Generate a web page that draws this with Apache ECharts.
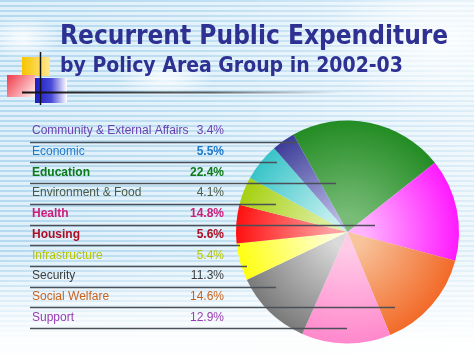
<!DOCTYPE html>
<html>
<head>
<meta charset="utf-8">
<script src="https://cdn.jsdelivr.net/npm/echarts@6/dist/echarts.min.js"></script>
<style>
html,body{margin:0;padding:0;width:474px;height:355px;overflow:hidden;}
#bg{position:absolute;left:0;top:0;width:474px;height:355px;
background:
 radial-gradient(ellipse 40px 22px at 22px 38px, rgba(255,255,255,0.85), rgba(255,255,255,0) 100%),
 radial-gradient(ellipse 50px 20px at 165px 78px, rgba(255,255,255,0.8), rgba(255,255,255,0) 100%),
 radial-gradient(ellipse 120px 70px at 440px 40px, rgba(255,255,255,0.85), rgba(255,255,255,0) 100%),
 linear-gradient(to bottom, rgba(255,255,255,0) 0px, rgba(255,255,255,0) 250px, rgba(255,255,255,0.95) 340px),
 linear-gradient(to right, rgba(255,255,255,0) 0px, rgba(255,255,255,0.15) 200px, rgba(255,255,255,0.55) 474px),
 repeating-linear-gradient(to bottom, #b4d9f0 0px, #b4d9f0 2px, #dff0fa 2px, #dff0fa 5px);
}
#chart{position:absolute;left:0;top:0;width:474px;height:355px;}
</style>
</head>
<body>
<div id="bg"></div>
<div id="chart"></div>
<script>
// ---- data ----
var titleLine1 = 'Recurrent Public Expenditure';
var titleLine2 = 'by Policy Area Group in 2002-03';
var categories = ['Community & External Affairs', 'Economic', 'Education', 'Environment & Food', 'Health', 'Housing', 'Infrastructure', 'Security', 'Social Welfare', 'Support'];
var values = [3.4, 5.5, 22.4, 4.1, 14.8, 5.6, 5.4, 11.3, 14.6, 12.9];
var pieOrder = ['Education', 'Health', 'Social Welfare', 'Support', 'Security', 'Infrastructure', 'Housing', 'Environment & Food', 'Economic', 'Community & External Affairs'];

// ---- styles ----
var textColors = ['#6a3fb0', '#1f78c8', '#0b7a16', '#4e5a46', '#d01c78', '#b00d22', '#b8c400', '#3c3c3c', '#c8621e', '#9a3cb0'];
var boldLabel = [false, false, true, false, true, true, false, false, false, false];
var boldValue = [false, true, true, false, true, true, false, false, false, false];
var sliceColors = {
  'Education': ['#78bc78', '#238c23'],
  'Health': ['#ffb4ff', '#ff1aff'],
  'Social Welfare': ['#f8c49c', '#f26a28'],
  'Support': ['#ffcce8', '#ff88cc'],
  'Security': ['#dadada', '#7a7a7a'],
  'Infrastructure': ['#ffffd8', '#ffff10'],
  'Housing': ['#ffa0a0', '#ff1010'],
  'Environment & Food': ['#e0f0a8', '#a6d010'],
  'Economic': ['#c8f0f0', '#38c4c8'],
  'Community & External Affairs': ['#b8b8e4', '#3c3c98']
};
var lineEnds = [297, 277, 336, 276, 375, 240, 247, 276, 395, 347];
var cx = 347.5, cy = 232, R = 111.5;
var rowTop = 131, rowStep = 20.7;
var titleFont = '"DejaVu Sans Condensed", "DejaVu Sans"';

var chart = echarts.init(document.getElementById('chart'), null, {renderer: 'canvas'});

var pieData = pieOrder.map(function (name) {
  var i = categories.indexOf(name);
  var c = sliceColors[name];
  return {
    name: name,
    value: values[i],
    itemStyle: {
      color: {
        type: 'radial', x: cx, y: cy, r: R, global: true,
        colorStops: [{offset: 0, color: c[0]}, {offset: 0.15, color: c[0]}, {offset: 1, color: c[1]}]
      }
    }
  };
});

var graphics = [];
// title
graphics.push({type: 'text', left: 60, top: 24, z: 10, style: {text: titleLine1, font: 'bold 26px ' + titleFont, fill: '#2e3192', shadowColor: 'rgba(0,0,0,0.25)', shadowOffsetX: 1, shadowOffsetY: 1, shadowBlur: 1}});
graphics.push({type: 'text', left: 60, top: 56, z: 10, style: {text: titleLine2, font: 'bold 21px ' + titleFont, fill: '#2e3192', shadowColor: 'rgba(0,0,0,0.25)', shadowOffsetX: 1, shadowOffsetY: 1, shadowBlur: 1}});
// decorative squares
graphics.push({type: 'rect', z: 5, shape: {x: 22, y: 57, width: 28, height: 19}, style: {fill: new echarts.graphic.LinearGradient(0, 0, 1, 0, [{offset: 0, color: '#f8c400'}, {offset: 1, color: '#ffe890'}])}});
graphics.push({type: 'rect', z: 6, shape: {x: 7, y: 75, width: 28, height: 22}, style: {fill: new echarts.graphic.LinearGradient(0, 0, 1, 1, [{offset: 0, color: '#f03848'}, {offset: 1, color: '#fff0f0'}])}});
graphics.push({type: 'rect', z: 6, shape: {x: 35, y: 78, width: 32, height: 25}, style: {fill: new echarts.graphic.LinearGradient(0, 0, 1, 0, [{offset: 0, color: '#1c1cc0'}, {offset: 0.5, color: '#4848d8'}, {offset: 1, color: '#ffffff'}])}});
graphics.push({type: 'line', z: 7, shape: {x1: 40.5, y1: 52, x2: 40.5, y2: 105}, style: {stroke: '#111', lineWidth: 1.5}});
graphics.push({type: 'line', z: 7, shape: {x1: 22, y1: 92.5, x2: 340, y2: 92.5}, style: {stroke: new echarts.graphic.LinearGradient(0, 0, 1, 0, [{offset: 0, color: '#111'}, {offset: 0.6, color: 'rgba(40,40,40,0.7)'}, {offset: 1, color: 'rgba(80,80,80,0)'}]), lineWidth: 2}});

// rows
categories.forEach(function (name, i) {
  var y = rowTop + i * rowStep;
  graphics.push({type: 'text', z: 20, x: 32, y: y, style: {text: name, font: (boldLabel[i] ? 'bold ' : '') + '12px "Liberation Sans"', fill: textColors[i], textVerticalAlign: 'middle', verticalAlign: 'middle', shadowColor: 'rgba(0,0,0,0.3)', shadowOffsetX: 1, shadowOffsetY: 1, shadowBlur: 1}});
  graphics.push({type: 'text', z: 20, x: 224, y: y, style: {text: values[i].toFixed(1) + '%', font: (boldValue[i] ? 'bold ' : '') + '12px "Liberation Sans"', fill: textColors[i], textAlign: 'right', align: 'right', textVerticalAlign: 'middle', verticalAlign: 'middle', shadowColor: 'rgba(0,0,0,0.3)', shadowOffsetX: 1, shadowOffsetY: 1, shadowBlur: 1}});
  var ly = Math.round(y + 10.7) + 0.5;
  graphics.push({type: 'line', z: 30, shape: {x1: 30, y1: ly, x2: lineEnds[i], y2: ly}, style: {stroke: '#4a4f58', lineWidth: 1.3}});
});

chart.setOption({
  backgroundColor: 'transparent',
  animation: false,
  graphic: graphics,
  series: [{
    type: 'pie',
    center: [cx, cy],
    radius: [0, R],
    startAngle: 119,
    clockwise: true,
    label: {show: false},
    labelLine: {show: false},
    emphasis: {disabled: true},
    itemStyle: {borderWidth: 0},
    data: pieData
  }]
});
</script>
</body>
</html>
